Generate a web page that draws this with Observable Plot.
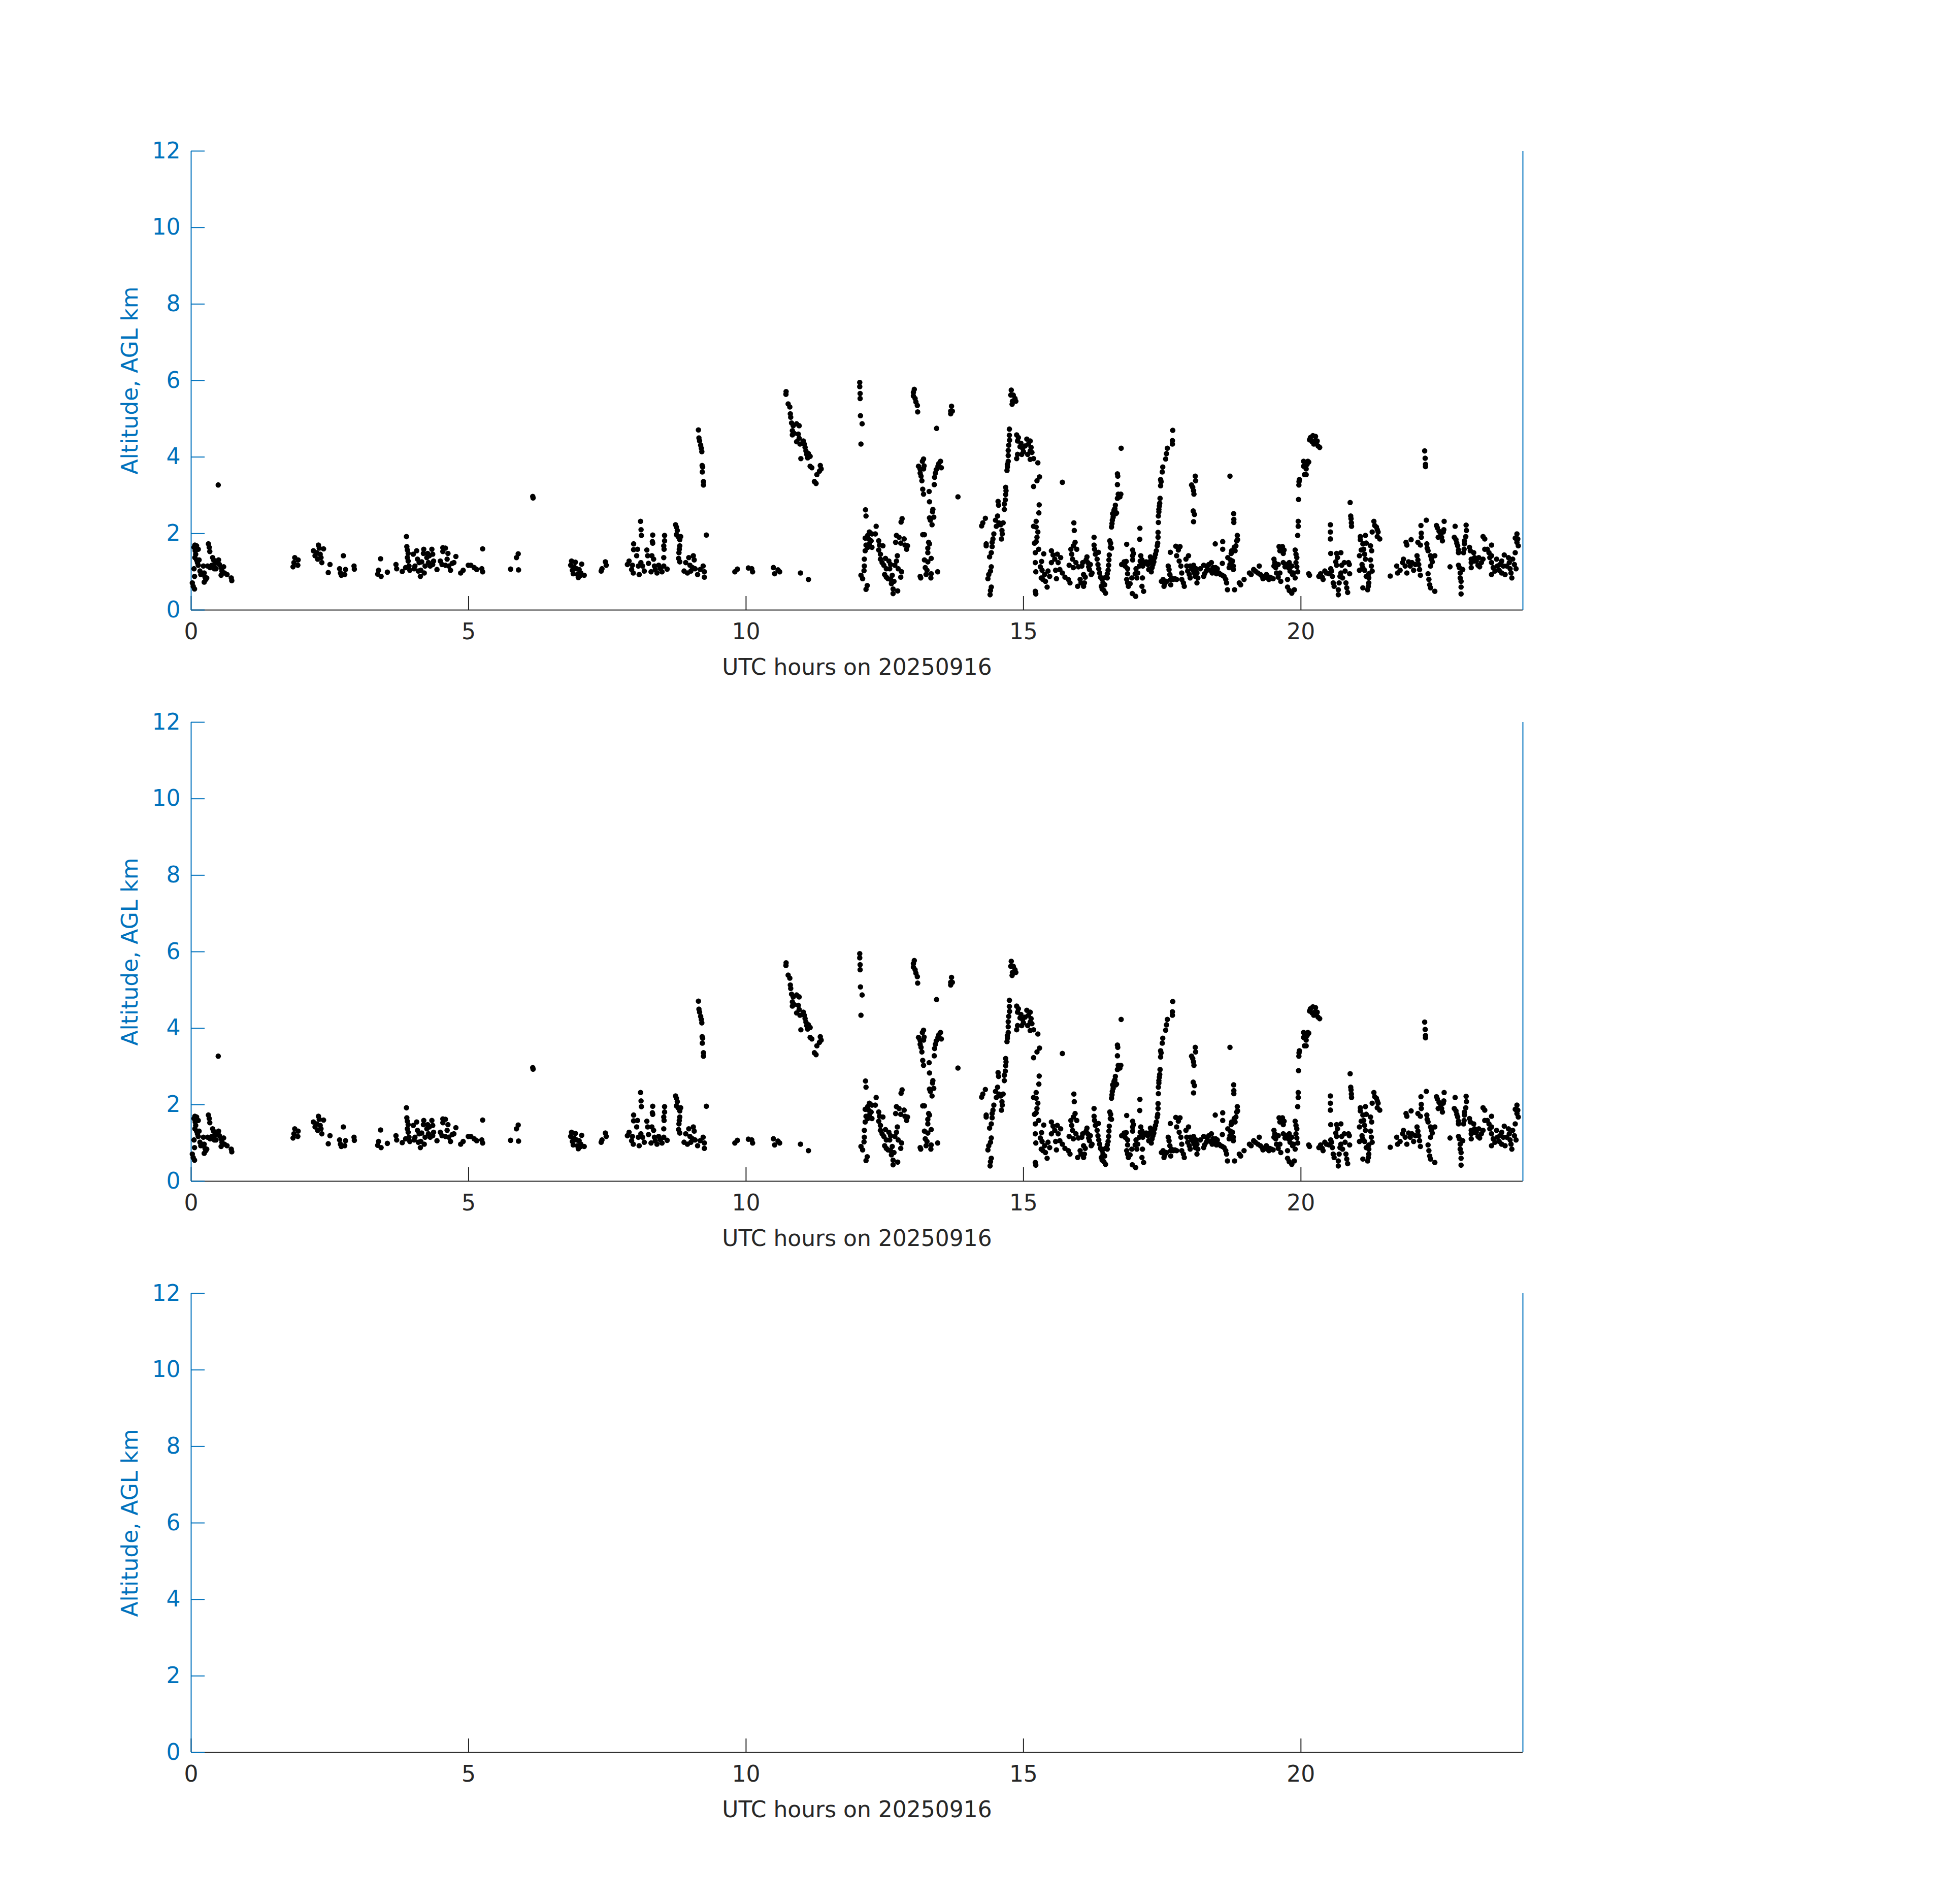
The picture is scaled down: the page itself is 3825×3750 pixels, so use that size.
<!DOCTYPE html>
<html>
<head>
<meta charset="utf-8">
<script src="https://cdn.jsdelivr.net/npm/d3@7"></script>
<script src="https://cdn.jsdelivr.net/npm/@observablehq/plot@0.6"></script>
<style>
  html, body { margin: 0; padding: 0; background: #ffffff; }
  #fig { position: relative; width: 3825px; height: 3750px; background: #ffffff; }
  #fig svg { position: absolute; left: 0; }
</style>
</head>
<body>
<div id="fig"></div>
<script>
// ---- tick values and labels ----
const xTickValues = [0, 5, 10, 15, 20];
const yTickValues = [0, 2, 4, 6, 8, 10, 12];
const xAxisLabel = "UTC hours on 20250916";
const yAxisLabel = "Altitude, AGL km";
const panelHasData = [true, true, false];

// ---- observations: [UTC hour, altitude AGL km] ----
const obs00to04 = [[0.067,1.70],[0.098,1.68],[0.128,1.59],[0.052,1.64],[0.073,1.55],[0.082,1.46],[0.067,1.37],[0.098,1.31],[0.113,1.24],[0.128,1.17],[0.052,1.08],[0.061,0.88],[0.021,0.71],[0.037,0.62],[0.061,0.55],[0.143,1.31],[0.220,1.15],[0.159,1.02],[0.174,0.93],[0.235,0.97],[0.250,0.86],[0.281,0.84],[0.235,0.73],[0.265,0.80],[0.311,1.73],[0.326,1.64],[0.336,1.53],[0.296,1.15],[0.342,1.11],[0.372,1.17],[0.387,1.37],[0.403,1.31],[0.433,1.22],[0.448,1.08],[0.479,1.24],[0.494,1.31],[0.509,1.19],[0.540,1.11],[0.555,1.02],[0.540,0.91],[0.586,1.13],[0.601,0.97],[0.647,0.93],[0.723,0.84],[0.732,0.77],[0.403,1.15],[0.418,1.08],[0.488,3.27],[1.867,1.37],[1.928,1.31],[1.852,1.24],[1.922,1.17],[1.836,1.13],[2.294,1.70],[2.309,1.62],[2.386,1.60],[2.203,1.55],[2.264,1.50],[2.325,1.46],[2.233,1.42],[2.279,1.33],[2.355,1.24],[2.340,1.37],[2.502,1.19],[2.471,0.98],[2.743,1.42],[2.675,1.08],[2.782,1.06],[2.691,0.97],[2.706,0.91],[2.767,0.93],[2.935,1.15],[2.941,1.07],[3.414,1.34],[3.377,1.04],[3.362,0.94],[3.423,0.88],[3.536,0.99],[3.691,1.19],[3.704,1.08],[3.804,1.01],[3.880,1.92],[3.887,1.66],[3.896,1.57],[3.911,1.48],[3.896,1.37],[3.911,1.28],[3.865,1.11],[3.941,1.04],[3.926,1.15]];

const obs04to08 = [[4.003,1.46],[4.064,1.55],[4.033,1.15],[4.079,1.33],[4.109,1.24],[4.140,1.04],[4.155,1.26],[4.192,1.59],[4.186,1.48],[4.216,1.15],[4.201,0.97],[4.247,1.37],[4.262,1.48],[4.277,1.24],[4.292,1.42],[4.308,1.15],[4.338,1.59],[4.353,1.46],[4.369,1.28],[4.353,1.19],[4.430,1.06],[4.491,1.28],[4.536,1.63],[4.582,1.62],[4.536,1.53],[4.521,1.19],[4.582,1.17],[4.628,1.48],[4.613,1.33],[4.643,1.15],[4.674,1.04],[4.704,1.22],[4.735,1.24],[4.771,1.40],[4.131,0.88],[4.094,1.02],[4.018,1.08],[4.857,0.97],[4.902,1.04],[4.994,1.17],[5.040,1.17],[5.101,1.11],[5.146,1.06],[5.238,1.08],[5.253,1.00],[5.253,1.60],[5.757,1.07],[5.900,1.05],[5.863,1.37],[5.894,1.47],[6.156,2.97],[6.162,2.93],[6.855,1.28],[6.925,1.25],[6.840,1.17],[6.901,1.13],[7.038,1.20],[6.870,1.04],[6.946,1.08],[6.992,1.06],[6.885,0.95],[6.962,0.93],[7.023,0.91],[7.084,0.91],[6.977,0.85],[7.023,0.97],[7.404,1.08],[7.389,1.02],[7.465,1.26],[7.480,1.17],[7.974,1.73],[7.974,1.58],[7.892,1.28],[7.862,1.19],[7.953,1.17],[7.938,1.06],[7.968,0.97]];

const obs08to12 = [[8.044,1.59],[8.029,1.42],[8.059,1.15],[8.074,0.93],[8.105,1.24],[8.099,2.32],[8.108,2.10],[8.114,1.95],[8.135,1.15],[8.166,1.02],[8.212,1.57],[8.227,1.42],[8.242,1.22],[8.288,1.00],[8.318,1.96],[8.312,1.79],[8.318,1.75],[8.303,1.42],[8.334,1.33],[8.349,1.15],[8.395,0.97],[8.364,1.06],[8.425,1.17],[8.456,1.08],[8.486,1.00],[8.517,1.15],[8.532,1.95],[8.532,1.81],[8.517,1.68],[8.523,1.59],[8.517,1.37],[8.578,1.07],[8.730,2.23],[8.745,2.17],[8.761,2.08],[8.745,1.97],[8.776,1.92],[8.822,1.92],[8.806,1.84],[8.806,1.68],[8.797,1.59],[8.791,1.50],[8.785,1.35],[8.806,1.26],[8.883,1.02],[8.913,1.24],[8.968,1.37],[8.989,1.17],[9.050,1.42],[9.066,1.31],[9.005,1.02],[8.944,0.97],[9.035,1.11],[9.081,1.08],[9.127,0.93],[9.173,1.06],[9.227,1.15],[9.249,1.00],[9.249,0.86],[9.142,4.71],[9.151,4.50],[9.163,4.42],[9.182,4.31],[9.194,4.23],[9.203,4.14],[9.209,3.78],[9.218,3.74],[9.212,3.61],[9.233,3.36],[9.233,3.27],[9.285,1.96],[9.798,1.00],[9.844,1.07],[10.042,1.10],[10.103,1.08],[10.118,1.00],[10.493,1.11],[10.515,0.95],[10.576,1.05],[10.606,1.00],[10.981,0.97],[11.125,0.80],[10.722,5.71],[10.719,5.64],[10.759,5.39],[10.789,5.31],[10.798,5.13],[10.805,5.04],[10.820,4.89],[10.850,4.82],[10.911,4.87],[10.957,4.82],[10.835,4.69],[10.866,4.62],[10.835,4.58],[10.942,4.60],[10.911,4.40],[10.957,4.49],[10.972,4.34],[11.033,4.42],[11.049,4.34],[11.064,4.25],[11.079,4.16],[11.094,4.07],[11.125,4.09],[11.155,4.02],[11.110,3.98],[10.988,3.96],[11.155,3.76],[11.186,3.72],[11.338,3.78],[11.354,3.69],[11.323,3.63],[11.277,3.54],[11.232,3.36],[11.262,3.31]];

const obs12to16 = [[12.049,5.95],[12.049,5.84],[12.056,5.66],[12.056,5.53],[12.062,5.08],[12.092,4.87],[12.071,4.34],[13.032,5.77],[13.016,5.69],[13.016,5.60],[13.047,5.53],[13.062,5.44],[13.087,5.35],[13.093,5.18],[13.703,5.33],[13.688,5.20],[13.688,5.13],[13.718,5.20],[13.434,4.75],[14.780,5.75],[14.771,5.62],[14.816,5.62],[14.847,5.53],[14.801,5.46],[14.862,5.46],[14.795,5.38],[14.746,4.73],[14.746,4.57],[14.749,4.44],[14.734,4.31],[14.725,4.17],[14.725,4.04],[14.725,3.89],[14.710,3.81],[14.710,3.74],[14.703,3.65],[14.877,4.58],[14.908,4.51],[14.893,4.42],[14.954,4.36],[14.938,4.27],[14.984,4.23],[15.030,4.29],[15.060,4.47],[15.121,4.42],[15.091,4.34],[15.137,4.25],[15.121,4.16],[15.152,4.12],[15.076,4.07],[14.969,4.07],[14.999,4.14],[14.893,4.07],[14.877,3.96],[15.121,3.94],[15.182,3.96],[15.259,3.85],[15.289,3.48],[15.243,3.38],[15.182,3.23],[15.701,3.34],[13.819,2.96],[13.199,3.95],[13.178,3.89],[13.108,3.76],[13.209,3.77],[13.138,3.68],[13.199,3.69],[13.138,3.58],[13.154,3.50],[13.169,3.38],[13.184,3.16],[13.199,3.03],[13.300,3.10],[13.306,2.83],[13.367,2.63],[13.361,2.57],[13.383,2.43],[13.306,2.41],[13.322,2.35],[13.352,2.23],[13.184,1.97],[13.215,1.97],[13.505,3.89],[13.474,3.83],[13.459,3.76],[13.520,3.72],[13.428,3.67],[13.413,3.58],[13.398,3.47],[13.392,3.28],[13.291,1.77],[13.306,1.73],[13.276,1.62],[13.276,1.50],[13.215,1.31],[13.276,1.26],[13.337,1.35],[13.230,1.11],[13.261,1.04],[13.245,0.93],[13.337,0.95],[13.331,0.84],[13.138,0.88],[13.148,0.84],[13.453,1.00],[12.153,2.62],[12.162,2.46],[12.345,2.19],[12.223,2.04],[12.269,1.99],[12.330,1.99],[12.193,1.95],[12.147,1.88],[12.208,1.86],[12.254,1.81],[12.162,1.70],[12.223,1.73],[12.193,1.64],[12.269,1.64],[12.147,1.55],[12.391,1.81],[12.406,1.70],[12.467,1.68],[12.391,1.57],[12.422,1.46],[12.422,1.33],[12.452,1.24],[12.513,1.35],[12.483,1.17],[12.574,1.28],[12.528,1.08],[12.605,1.19],[12.589,1.08],[12.498,0.93],[12.528,0.86],[12.559,0.82],[12.635,0.91],[12.605,0.80],[12.666,0.75],[12.620,0.69],[12.650,0.55],[12.650,0.43],[12.733,0.50],[12.132,1.33],[12.132,1.15],[12.126,1.03],[12.071,0.91],[12.101,0.82],[12.184,0.64],[12.162,0.54],[12.812,2.39],[12.794,2.30],[12.711,1.95],[12.757,1.90],[12.849,1.86],[12.696,1.77],[12.788,1.75],[12.864,1.70],[12.910,1.68],[12.894,1.59],[12.727,1.42],[12.711,1.28],[12.681,1.17],[12.742,1.08],[12.803,1.00],[12.788,0.86],[14.313,2.40],[14.267,2.28],[14.246,2.20],[14.533,2.46],[14.496,2.35],[14.557,2.28],[14.511,2.19],[14.588,2.23],[14.633,2.28],[14.612,2.08],[14.618,1.99],[14.603,1.86],[14.466,1.99],[14.450,1.86],[14.435,1.77],[14.435,1.66],[14.420,1.50],[14.389,1.39],[14.328,1.73],[14.328,1.68],[14.542,2.84],[14.551,2.74],[14.679,3.21],[14.685,3.12],[14.679,3.02],[14.673,2.88],[14.655,2.77],[14.655,2.63],[14.420,1.13],[14.405,1.02],[14.374,0.93],[14.359,0.82],[14.420,0.60],[14.405,0.51],[14.398,0.40],[15.283,2.75],[15.277,2.54],[15.228,2.32],[15.182,2.19],[15.228,2.17],[15.259,2.04],[15.243,1.90],[15.228,1.79],[15.198,1.75],[15.274,1.59],[15.213,1.50],[15.213,1.24],[15.222,1.00],[15.213,0.49],[15.222,0.42],[15.304,1.13],[15.335,1.04],[15.320,0.84],[15.350,0.80],[15.381,0.93],[15.396,0.75],[15.426,0.60],[15.365,1.47],[15.326,1.27],[15.442,1.02],[15.472,0.88],[15.503,1.55],[15.533,1.44],[15.503,1.24],[15.564,1.33],[15.610,1.46],[15.670,1.37],[15.625,1.24],[15.579,1.04],[15.594,0.82],[15.655,1.06],[15.701,0.97],[15.747,0.86],[15.808,0.80],[15.838,0.71],[15.908,2.28],[15.915,2.08],[15.930,1.77],[15.899,1.68],[15.960,1.59],[15.854,1.59],[15.869,1.46],[15.884,1.33],[15.945,1.24],[15.823,1.17],[15.899,1.11],[15.991,1.13],[16.021,0.80],[15.976,0.62],[16.037,0.71]];

const obs16to20 = [[16.067,1.24],[16.052,1.15],[16.083,0.93],[16.098,0.71],[16.083,0.62],[16.144,1.39],[16.128,1.31],[16.159,1.24],[16.174,1.13],[16.205,1.19],[16.189,1.06],[16.235,0.97],[16.220,0.93],[16.113,0.86],[16.272,1.90],[16.272,1.70],[16.281,1.59],[16.296,1.46],[16.327,1.33],[16.342,1.19],[16.357,1.08],[16.372,0.97],[16.388,0.86],[16.418,0.80],[16.433,0.71],[16.418,0.55],[16.449,0.51],[16.479,0.44],[16.403,0.62],[16.464,0.66],[16.510,0.84],[16.479,0.86],[16.351,1.51],[16.555,1.81],[16.571,1.75],[16.565,1.64],[16.586,1.62],[16.546,1.44],[16.540,1.31],[16.534,1.17],[16.525,1.04],[16.510,0.95],[16.586,2.17],[16.595,2.26],[16.601,2.35],[16.616,2.43],[16.607,2.52],[16.632,2.61],[16.647,2.65],[16.656,2.74],[16.662,2.52],[16.677,2.54],[16.693,2.92],[16.708,3.03],[16.738,2.96],[16.754,3.03],[16.693,3.28],[16.693,3.56],[16.699,3.50],[16.760,4.23],[16.860,1.72],[16.769,1.19],[16.815,1.26],[16.851,1.27],[16.830,1.15],[16.876,1.08],[16.876,0.95],[16.860,0.80],[16.876,0.71],[16.891,0.62],[16.921,0.69],[16.952,0.84],[16.967,1.57],[16.982,1.48],[16.967,1.42],[16.967,1.31],[16.961,0.43],[17.022,0.36],[17.098,2.14],[17.095,1.85],[17.114,1.42],[17.028,1.08],[17.059,0.97],[17.013,0.95],[17.043,0.84],[17.104,1.28],[17.135,1.31],[17.120,1.19],[17.089,1.15],[17.150,1.15],[17.144,0.84],[17.135,0.62],[17.165,0.49],[17.181,1.22],[17.211,1.26],[17.242,1.19],[17.272,1.26],[17.257,1.06],[17.288,1.39],[17.303,1.33],[17.303,1.00],[17.318,1.11],[17.333,1.19],[17.349,1.26],[17.364,1.37],[17.379,1.46],[17.394,1.55],[17.410,1.68],[17.419,1.75],[17.425,1.90],[17.425,2.03],[17.431,2.29],[17.431,2.46],[17.440,2.57],[17.440,2.63],[17.449,2.72],[17.455,2.79],[17.461,2.92],[17.471,3.25],[17.480,3.36],[17.471,3.41],[17.501,3.61],[17.510,3.74],[17.562,3.95],[17.577,4.09],[17.593,4.23],[17.684,4.34],[17.684,4.43],[17.690,4.70],[17.486,0.75],[17.516,0.80],[17.532,0.62],[17.547,0.69],[17.577,0.75],[17.608,1.15],[17.623,1.06],[17.638,0.93],[17.654,0.80],[17.654,0.66],[17.669,0.84],[17.699,0.80],[17.730,0.82],[17.760,0.80],[17.647,1.51],[17.745,1.67],[17.821,1.66],[17.791,1.57],[17.760,1.42],[17.806,1.28],[17.837,1.15],[17.852,0.97],[17.852,0.80],[17.882,0.71],[17.898,0.62],[17.928,1.33],[17.974,1.42],[17.943,1.15],[17.959,1.02],[17.989,0.93],[18.004,1.15],[18.035,1.08],[18.065,1.17],[18.081,0.97],[18.096,0.88],[18.111,1.08],[18.126,0.97],[18.142,0.84],[18.126,0.71],[18.065,1.02],[18.004,0.84],[18.187,1.08],[18.248,1.17],[18.248,0.88],[18.264,0.95],[18.294,1.02],[18.309,1.13],[18.340,1.19],[18.386,1.24],[18.370,1.04],[18.401,0.97],[18.416,1.11],[18.462,1.11],[18.493,1.08],[18.432,1.00],[18.477,0.95],[18.523,0.97],[18.554,0.93],[18.584,0.91],[18.615,0.88],[18.645,0.80],[18.660,0.71],[18.676,0.53],[18.456,1.73],[18.590,1.79],[18.590,1.59],[18.584,1.22],[18.682,1.37],[18.706,1.11],[18.721,1.19],[18.730,1.31],[18.743,1.48],[18.752,1.55],[18.782,1.15],[18.782,1.06],[18.767,1.28],[18.798,1.64],[18.813,1.55],[18.828,1.68],[18.843,1.81],[18.859,1.84],[18.853,1.95],[18.721,3.50],[18.788,2.52],[18.791,2.37],[18.791,2.29],[18.804,0.53],[18.889,0.71],[18.914,0.66],[18.975,0.80],[18.029,3.27],[18.050,3.21],[18.065,3.12],[18.072,3.03],[18.096,3.50],[18.102,3.38],[18.059,2.59],[18.081,2.50],[18.065,2.31],[19.072,0.97],[19.103,0.93],[19.148,1.06],[19.179,1.02],[19.225,0.97],[19.249,1.15],[19.270,0.93],[19.301,0.88],[19.316,0.82],[19.377,0.93],[19.392,0.84],[19.423,0.80],[19.438,0.86],[19.469,0.84],[19.499,0.82],[19.514,1.33],[19.530,1.24],[19.514,1.15],[19.545,1.11],[19.560,0.97],[19.591,1.19],[19.591,0.86],[19.621,0.97],[19.637,0.75],[19.606,1.66],[19.621,1.55],[19.667,1.66],[19.697,1.57],[19.682,1.48],[19.682,1.24],[19.713,1.13],[19.743,1.19],[19.774,1.11],[19.789,1.24],[19.804,1.02],[19.835,1.15],[19.850,0.93],[19.865,0.97],[19.759,0.80],[19.759,0.60],[19.789,0.51],[19.835,0.44],[19.881,0.53],[19.896,1.57],[19.911,1.46],[19.926,1.37],[19.911,1.24],[19.926,1.13],[19.942,1.00],[19.942,1.95],[19.951,2.19],[19.951,2.32],[19.957,2.89],[19.963,3.27],[19.966,3.36],[19.972,3.41],[20.048,3.89],[20.048,3.76],[20.064,3.54],[19.896,0.84]];

const obs20to24 = [[20.171,4.51],[20.216,4.56],[20.262,4.54],[20.155,4.45],[20.201,4.40],[20.247,4.42],[20.293,4.42],[20.232,4.34],[20.308,4.29],[20.338,4.25],[20.277,4.38],[20.125,3.89],[20.140,3.87],[20.110,3.81],[20.094,3.69],[20.094,3.54],[22.230,4.16],[22.239,3.97],[22.245,3.81],[22.245,3.75],[20.887,2.81],[20.897,2.46],[20.903,2.39],[20.909,2.28],[20.912,2.19],[20.140,0.95],[20.155,0.91],[20.323,0.88],[20.354,0.95],[20.384,0.86],[20.399,0.80],[20.430,1.02],[20.460,0.97],[20.506,0.95],[20.537,1.08],[20.552,1.02],[20.567,0.88],[20.582,0.71],[20.598,0.62],[20.628,1.26],[20.643,1.17],[20.659,1.37],[20.720,1.50],[20.643,1.48],[20.689,0.71],[20.704,0.88],[20.720,0.97],[20.735,1.17],[20.750,0.84],[20.781,1.24],[20.796,1.02],[20.811,0.71],[20.826,0.58],[20.842,0.46],[20.857,1.24],[20.872,1.19],[20.878,0.95],[20.674,0.53],[20.674,0.40],[20.531,2.23],[20.531,2.04],[20.531,1.86],[20.537,1.48],[21.070,1.92],[21.162,1.95],[21.070,1.84],[21.116,1.73],[21.177,1.75],[21.086,1.57],[21.131,1.59],[21.055,1.42],[21.147,1.46],[21.162,1.33],[21.101,1.19],[21.116,1.11],[21.055,1.04],[21.147,1.04],[21.177,0.88],[21.254,1.68],[21.275,1.55],[21.254,1.31],[21.269,1.15],[21.284,1.02],[21.223,0.95],[21.223,0.84],[21.223,0.71],[21.214,0.62],[21.202,0.53],[21.116,0.58],[21.315,2.32],[21.330,2.21],[21.360,2.17],[21.376,2.10],[21.391,2.04],[21.376,1.92],[21.421,1.86],[21.284,2.04],[21.610,0.89],[21.726,1.15],[21.742,0.97],[21.787,1.04],[21.833,1.24],[21.848,1.33],[21.879,1.15],[21.909,0.97],[21.940,1.26],[21.970,1.15],[22.001,1.24],[22.031,1.04],[22.062,1.19],[22.092,1.42],[22.108,1.31],[22.123,1.19],[22.138,1.06],[22.153,0.91],[21.894,1.77],[21.909,1.70],[21.986,1.84],[22.108,1.77],[22.153,1.70],[22.169,2.01],[22.169,1.90],[22.163,2.21],[22.260,2.35],[22.269,1.73],[22.275,1.62],[22.291,1.55],[22.336,1.42],[22.352,1.33],[22.367,1.26],[22.336,1.15],[22.413,1.42],[22.291,0.95],[22.306,0.80],[22.321,0.66],[22.336,0.58],[22.413,0.49],[22.443,2.21],[22.459,2.15],[22.489,2.06],[22.520,1.99],[22.535,1.90],[22.550,1.81],[22.565,2.04],[22.575,2.10],[22.581,2.32],[22.474,1.90],[22.687,1.13],[22.779,2.19],[22.764,1.90],[22.794,1.84],[22.809,1.75],[22.825,1.68],[22.840,1.57],[22.840,1.50],[22.840,1.17],[22.855,1.11],[22.870,0.97],[22.870,0.84],[22.886,0.60],[22.886,0.42],[22.886,0.75],[22.916,1.06],[22.977,2.22],[22.983,2.08],[22.971,1.92],[22.947,1.81],[22.947,1.73],[22.941,1.59],[22.931,1.50],[23.038,1.64],[23.053,1.55],[23.069,1.24],[23.069,1.11],[23.114,1.50],[23.130,1.37],[23.160,1.28],[23.191,1.17],[23.221,1.13],[23.252,1.24],[23.282,1.92],[23.313,1.86],[23.313,1.59],[23.359,1.59],[23.389,1.50],[23.404,1.37],[23.435,1.70],[23.435,1.42],[23.435,1.24],[23.435,0.93],[23.465,1.11],[23.496,1.02],[23.526,1.33],[23.541,1.15],[23.572,1.04],[23.587,1.19],[23.618,1.28],[23.618,0.97],[23.648,1.15],[23.664,1.44],[23.679,0.93],[23.709,1.15],[23.740,1.37],[23.755,1.24],[23.770,1.08],[23.786,0.97],[23.801,0.84],[23.816,1.33],[23.847,1.19],[23.862,1.50],[23.877,1.08],[23.893,1.77],[23.908,1.86],[23.893,1.99],[23.917,1.68],[23.862,1.88],[23.282,1.33],[23.130,1.28],[23.069,1.33],[23.206,1.37]];

// ---- build table for Plot ----
const observations = [obs00to04, obs04to08, obs08to12, obs12to16, obs16to20, obs20to24]
  .flat()
  .map(([hour, km]) => ({hour, km}));

const BLUE = "#0072BD";
const DARK = "#262626";

function makePanel(showData) {
  return Plot.plot({
    width: 3825,
    height: 1400,
    marginLeft: 376,
    marginRight: 826,
    marginTop: 297,
    marginBottom: 199,
    style: {background: "transparent", fontFamily: "'DejaVu Sans', sans-serif", fontSize: "44px", overflow: "visible"},
    x: {domain: [0, 24]},
    y: {domain: [0, 12]},
    marks: [
      Plot.ruleY([0], {stroke: DARK, strokeWidth: 2}),
      Plot.axisX({ticks: xTickValues, tickSize: -27, tickPadding: 53, color: DARK, strokeWidth: 2,
                  fontSize: 44, label: xAxisLabel, labelAnchor: "center", labelOffset: 127, labelArrow: "none"}),
      Plot.axisY({ticks: yTickValues, tickSize: -27, tickPadding: 48, color: BLUE, strokeWidth: 2,
                  fontSize: 44, label: yAxisLabel, labelAnchor: "center", labelOffset: 137, labelArrow: "none"}),
      Plot.ruleX([0, 24], {stroke: BLUE, strokeWidth: 2}),
      showData ? Plot.dot(observations, {x: "hour", y: "km", r: 5.3, fill: "#000000", stroke: null}) : null
    ]
  });
}

const fig = document.getElementById("fig");
panelHasData.forEach((hasData, i) => {
  const svg = makePanel(hasData);
  svg.style.top = (i * 1125) + "px";
  svg.style.position = "absolute";
  svg.style.left = "0px";
  fig.appendChild(svg);
});
</script>
</body>
</html>
